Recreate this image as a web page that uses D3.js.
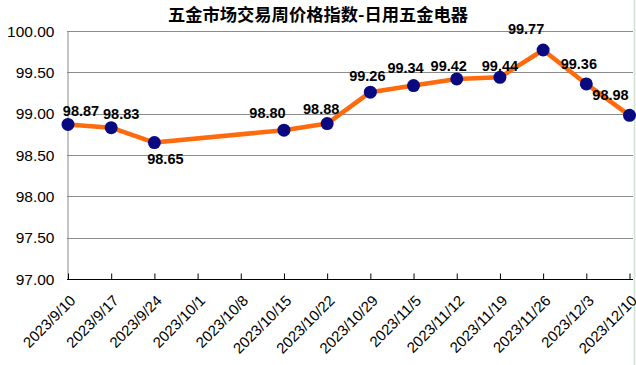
<!DOCTYPE html>
<html><head><meta charset="utf-8">
<script src="https://cdn.jsdelivr.net/npm/d3@7/dist/d3.min.js"></script>
<style>body{margin:0;background:#fff}svg{display:block}</style>
</head><body>
<script>
const title = "五金市场交易周价格指数-日用五金电器";
const categories = ["2023/9/10","2023/9/17","2023/9/24","2023/10/1","2023/10/8","2023/10/15","2023/10/22","2023/10/29","2023/11/5","2023/11/12","2023/11/19","2023/11/26","2023/12/3","2023/12/10"];
const values = [98.87,98.83,98.65,null,null,98.80,98.88,99.26,99.34,99.42,99.44,99.77,99.36,98.98];
const yTicks = [97.00,97.50,98.00,98.50,99.00,99.50,100.00];
// label offsets relative to the point (style/layout, not data)
const labelOffsets = [[13,-8],[10,-8.5],[11,21.5],null,null,[-16.5,-12],[-6,-10],[-3,-11.5],[-8,-12.5],[-8,-7.5],[0,-6],[-17,-16],[-7.5,-15],[-19,-15]];

(function(){
const W=636,H=365;
const svg=d3.select("body").append("svg").attr("width",W).attr("height",H);
const pLeft=67, pRight=633, pTop=31, pBottom=279;
const x=d3.scalePoint().domain(categories).range([68,629.5]);
const y=d3.scaleLinear().domain([97,100]).range([pBottom,pTop]);

svg.append("line").attr("x1",634.5).attr("x2",634.5).attr("y1",0).attr("y2",H).attr("stroke","#d3e3d3").attr("stroke-width",1.5);

svg.append("text").attr("x",318).attr("y",20.5).attr("text-anchor","middle")
 .attr("font-family","'Noto Sans CJK SC'").attr("font-weight","bold").attr("font-size",17.3).attr("fill","#000").text(title);

// gridlines
svg.append("g").selectAll("line").data(yTicks.filter(d=>d>97)).join("line")
 .attr("x1",pLeft).attr("x2",pRight).attr("y1",d=>Math.round(y(d))+0.5).attr("y2",d=>Math.round(y(d))+0.5)
 .attr("stroke","#8c8c8c").attr("stroke-width",1);

// y axis
const ya=svg.append("g").attr("transform",`translate(${pLeft+0.5},0)`)
 .call(d3.axisLeft(y).tickValues(yTicks).tickFormat(d3.format(".2f")).tickSize(0).tickPadding(13));
ya.select(".domain").attr("stroke","#8c8c8c");
ya.selectAll("text").attr("font-family","'Liberation Sans',Arial").attr("font-size",15.5).attr("fill","#000").attr("dy","0.34em");

// x axis
const xa=svg.append("g").attr("transform",`translate(0,${pBottom+0.5})`)
 .call(d3.axisBottom(x).tickSize(-6).tickSizeOuter(0).tickPadding(0));
xa.select(".domain").attr("stroke","#000").attr("d",`M${pLeft},0H${pRight}`);
xa.selectAll(".tick line").attr("stroke","#000");
xa.selectAll("text").attr("font-family","'Liberation Sans',Arial").attr("font-size",15).attr("fill","#000")
 .attr("text-anchor","end").attr("dy",0).attr("y",0)
 .attr("transform","translate(8,22) rotate(-45)");

// line
const pts=values.map((v,i)=>({c:categories[i],v,i})).filter(d=>d.v!=null);
svg.append("path").datum(pts).attr("fill","none").attr("stroke","#ff6a0d").attr("stroke-width",4.5).attr("stroke-linejoin","round")
 .attr("d",d3.line().x(d=>x(d.c)).y(d=>y(d.v)));

svg.append("g").selectAll("circle").data(pts).join("circle")
 .attr("cx",d=>x(d.c)).attr("cy",d=>y(d.v)).attr("r",6.5).attr("fill","#0a0a80");

svg.append("g").selectAll("text").data(pts).join("text")
 .attr("x",d=>x(d.c)+labelOffsets[d.i][0]).attr("y",d=>y(d.v)+labelOffsets[d.i][1])
 .attr("text-anchor","middle").attr("font-family","'Liberation Sans',Arial").attr("font-weight","bold")
 .attr("font-size",14.5).attr("fill","#000").text(d=>d3.format(".2f")(d.v));
})();
</script>
</body></html>
